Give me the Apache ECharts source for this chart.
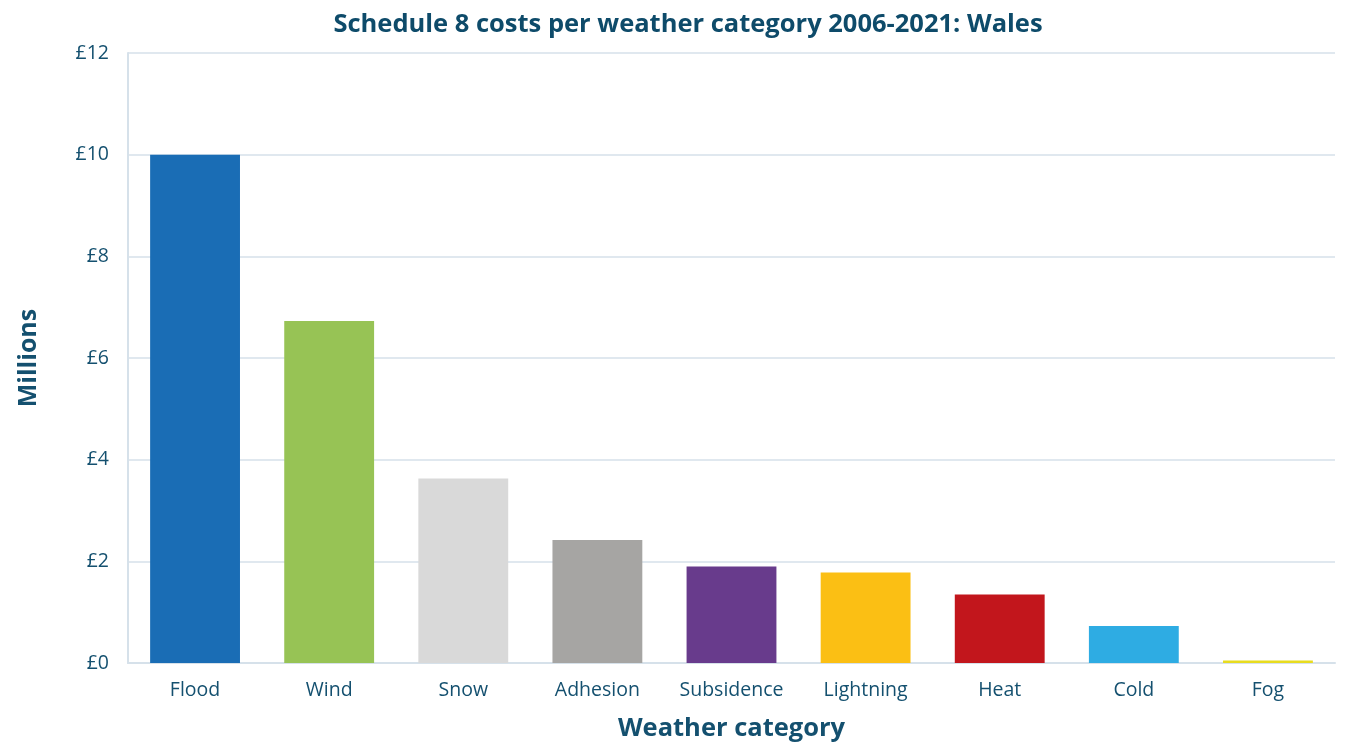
<!DOCTYPE html>
<html>
<head>
<meta charset="utf-8">
<script src="https://cdn.jsdelivr.net/npm/echarts@6/dist/echarts.min.js"></script>
<style>
  html, body { margin: 0; padding: 0; background: #ffffff; overflow: hidden; }
  #chart { width: 1348px; height: 747px; }
</style>
</head>
<body>
<div id="chart"></div>
<script>
// Schedule 8 costs per weather category, Wales 2006-2021 (£ millions)
const categories = ['Flood', 'Wind', 'Snow', 'Adhesion', 'Subsidence', 'Lightning', 'Heat', 'Cold', 'Fog'];
const costs = [10.0, 6.73, 3.63, 2.42, 1.90, 1.78, 1.35, 0.73, 0.05];
const barColors = ['#1a6db5', '#97c355', '#d9d9d9', '#a6a5a3', '#683b8c', '#fbbf14', '#c2161c', '#2eace3', '#e8dc1f'];
const yTicks = [0, 2, 4, 6, 8, 10, 12];

const textColor = '#14506f';
const fontFamily = '"Open Sans", "Noto Sans", sans-serif';

const chart = echarts.init(document.getElementById('chart'), null, { renderer: 'canvas' });

chart.setOption({
  backgroundColor: '#ffffff',
  animation: false,
  title: {
    text: 'Schedule 8 costs per weather category 2006-2021: Wales',
    left: 683,
    textAlign: 'center',
    top: 7,
    textStyle: { color: '#0e4b6a', fontSize: 25.5, fontWeight: 'bold', fontFamily: fontFamily }
  },
  grid: { left: 128, right: 13, top: 53, bottom: 82, containLabel: false },
  xAxis: {
    type: 'category',
    data: categories,
    name: 'Weather category',
    nameLocation: 'middle',
    nameGap: 53,
    nameTextStyle: { color: textColor, fontSize: 25.5, fontWeight: 'bold', fontFamily: fontFamily },
    axisLine: { show: true, lineStyle: { color: '#d6e1ea', width: 2 } },
    axisTick: { show: false },
    axisLabel: { interval: 0, color: textColor, fontSize: 19.5, margin: 17, fontFamily: fontFamily }
  },
  yAxis: {
    type: 'value',
    min: yTicks[0],
    max: yTicks[yTicks.length - 1],
    interval: 2,
    name: 'Millions',
    nameLocation: 'middle',
    nameGap: 87,
    nameTextStyle: { color: textColor, fontSize: 25, fontWeight: 'bold', fontFamily: fontFamily },
    axisLine: { show: true, lineStyle: { color: '#d6e1ea', width: 2 } },
    axisTick: { show: false },
    axisLabel: {
      color: textColor, fontSize: 19.5, margin: 19, fontFamily: fontFamily,
      formatter: v => '£' + v
    },
    splitLine: { show: true, lineStyle: { color: '#d6e1ea', width: 1.5 } }
  },
  series: [{
    type: 'bar',
    data: costs.map((v, i) => ({ value: v, itemStyle: { color: barColors[i] } })),
    barCategoryGap: '33%'
  }]
});
</script>
</body>
</html>
